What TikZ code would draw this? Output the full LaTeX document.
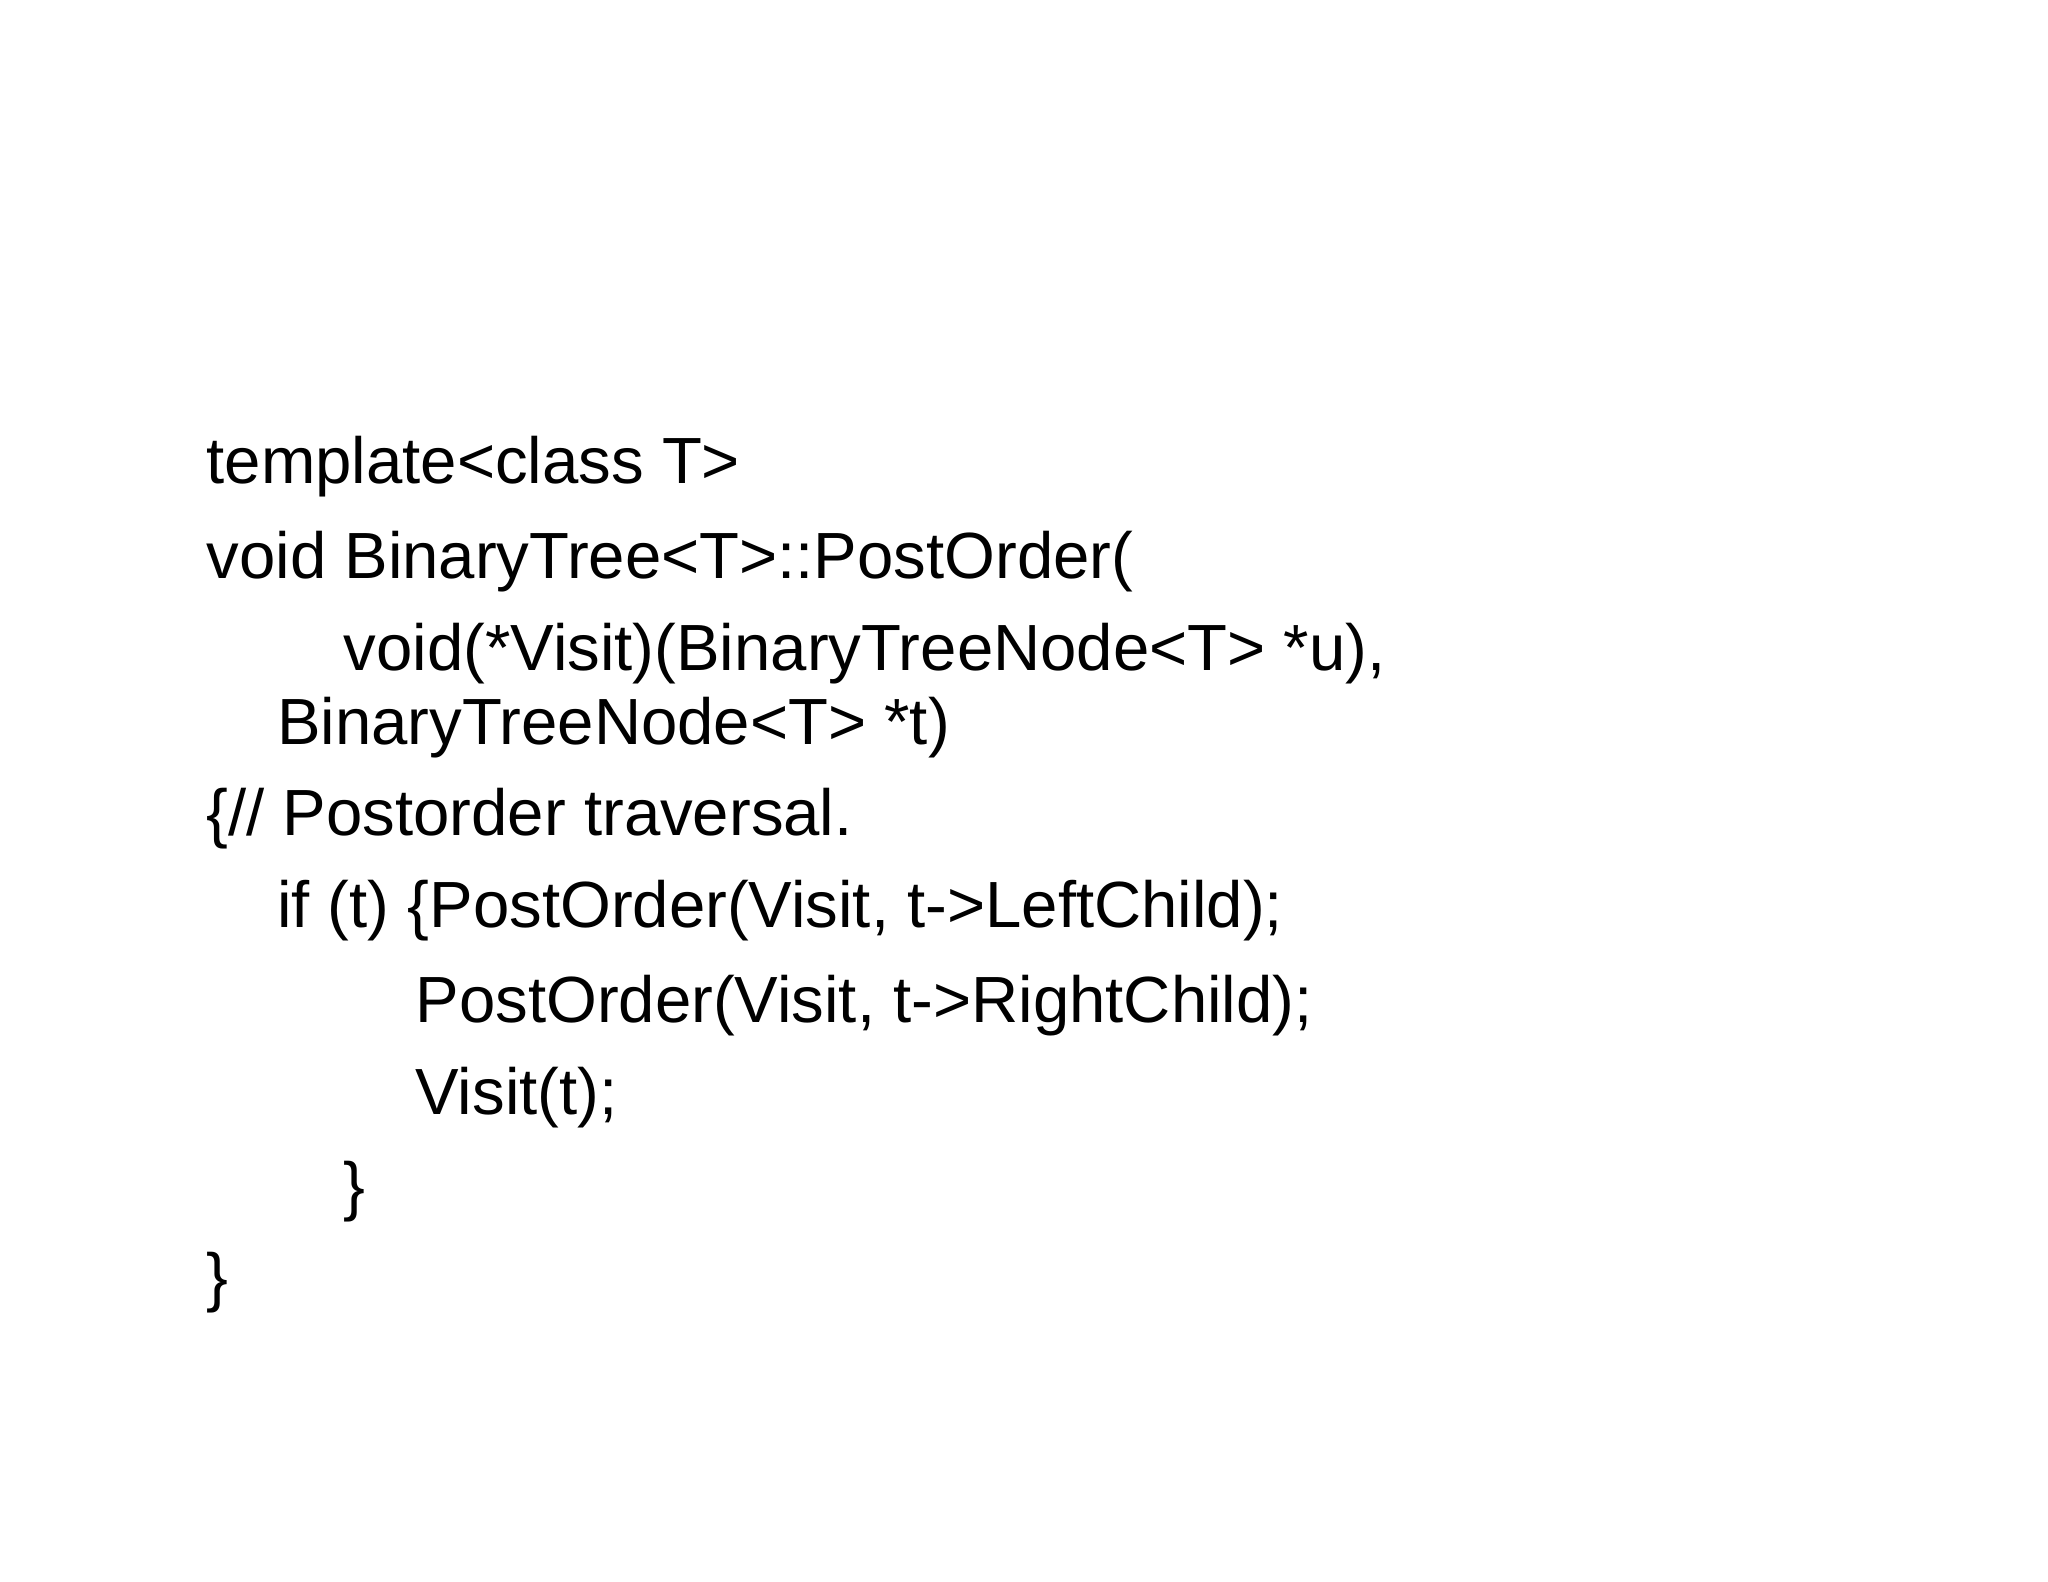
\documentclass[tikz,border=0pt]{standalone}
\usepackage{fontspec}
\setmainfont{Liberation Sans}
\begin{document}
\begin{tikzpicture}[x=1pt,y=1pt,code/.style={anchor=base west,inner sep=0pt,font=\fontsize{50}{60}\selectfont}]
\useasboundingbox (0,0) rectangle (1568,1211);
\node[code] (l1) at (158,1211-370) {template<class T>};
\node[code] (l2) at (158,1211-443) {void BinaryTree<T>::PostOrder(};
\node[code] (l3) at (263,1211-513) {void(*Visit)(BinaryTreeNode<T> *u),};
\node[code] (l4) at (212,1211-570) {BinaryTreeNode<T> *t)};
\node[code] (l5) at (158,1211-640) {\{// Postorder traversal.};
\node[code] (l6) at (212,1211-710) {if (t) \{PostOrder(Visit, t->LeftChild);};
\node[code] (l7) at (318,1211-783) {PostOrder(Visit, t->RightChild);};
\node[code] (l8) at (318,1211-853) {Visit(t);};
\node[code] (l9) at (263,1211-925) {\}};
\node[code] (l10) at (158,1211-995) {\}};
\end{tikzpicture}
\end{document}
